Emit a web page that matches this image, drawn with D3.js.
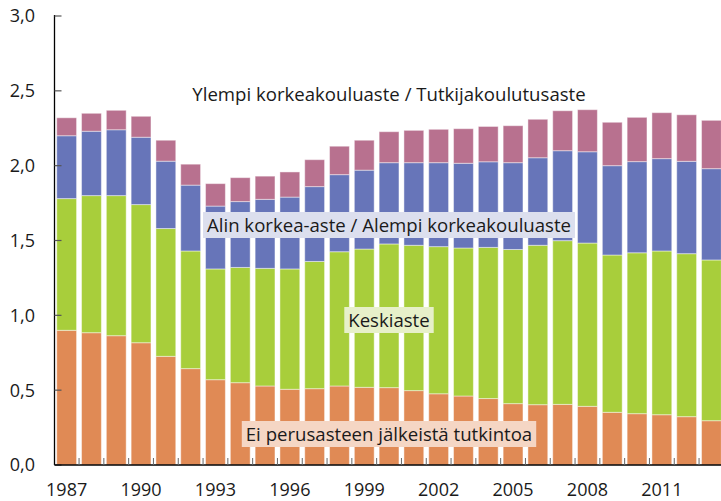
<!DOCTYPE html>
<html>
<head>
<meta charset="utf-8">
<script src="https://cdn.jsdelivr.net/npm/d3@7"></script>
<style>
  body { margin: 0; background: #fff; }
  svg { display: block; }
  text { font-family: "Open Sans", sans-serif; fill: #1a1a1a; }
</style>
</head>
<body>
<div class="chart"></div>
<script>
var years = [1987, 1988, 1989, 1990, 1991, 1992, 1993, 1994, 1995, 1996, 1997, 1998, 1999,
             2000, 2001, 2002, 2003, 2004, 2005, 2006, 2007, 2008, 2009, 2010, 2011, 2012, 2013];

// Ei perusasteen jälkeistä tutkintoa
var perus = [0.900, 0.884, 0.864, 0.817, 0.726, 0.644, 0.570, 0.550, 0.528, 0.506, 0.510, 0.528, 0.519,
             0.517, 0.497, 0.476, 0.461, 0.444, 0.410, 0.403, 0.405, 0.392, 0.352, 0.343, 0.336, 0.323, 0.296];
// Keskiaste
var keski = [0.880, 0.916, 0.936, 0.923, 0.854, 0.786, 0.740, 0.770, 0.786, 0.804, 0.850, 0.897, 0.924,
             0.960, 0.971, 0.983, 0.989, 1.010, 1.030, 1.065, 1.094, 1.091, 1.051, 1.075, 1.094, 1.089, 1.074];
// Alin korkea-aste / Alempi korkeakouluaste
var alin = [0.420, 0.430, 0.440, 0.450, 0.450, 0.440, 0.420, 0.440, 0.461, 0.480, 0.500, 0.515, 0.527,
            0.543, 0.552, 0.561, 0.566, 0.572, 0.580, 0.585, 0.601, 0.610, 0.597, 0.609, 0.617, 0.617, 0.610];
// Ylempi korkeakouluaste / Tutkijakoulutusaste
var ylempi = [0.120, 0.120, 0.130, 0.140, 0.140, 0.140, 0.150, 0.160, 0.155, 0.168, 0.180, 0.190, 0.200,
              0.207, 0.216, 0.223, 0.231, 0.236, 0.247, 0.257, 0.267, 0.281, 0.290, 0.296, 0.307, 0.311, 0.323];

var seriesNames = ["perus", "keski", "alin", "ylempi"];
var seriesLabels = ["Ei perusasteen jälkeistä tutkintoa", "Keskiaste",
                    "Alin korkea-aste / Alempi korkeakouluaste", "Ylempi korkeakouluaste / Tutkijakoulutusaste"];
var yTicks = [0, 0.5, 1.0, 1.5, 2.0, 2.5, 3.0];
var xLabelYears = [1987, 1990, 1993, 1996, 1999, 2002, 2005, 2008, 2011];

var colors = {perus: "#e08a55", keski: "#a8ce3b", alin: "#6775b9", ylempi: "#b8718f"};
var boxColors = {perus: "#f5d6c4", keski: "#e7f0c9", alin: "#dcdfee", ylempi: "none"};

var svg_width = 721, svg_height = 501;
var svg = d3.select(".chart").append("svg").attr("width", svg_width).attr("height", svg_height);

var axisX = 54.5, y0 = 465, y3 = 16;

var table = years.map(function(yr, i) {
  return {year: yr, perus: perus[i], keski: keski[i], alin: alin[i], ylempi: ylempi[i]};
});

var stack = d3.stack().keys(seriesNames);
var layers = stack(table);

var y = d3.scaleLinear().domain([0, 3]).range([y0, y3]);

var pIn = 0.2, pOut = 0.09;
var step = 24.8;
var x = d3.scaleBand()
  .domain(years)
  .range([axisX, axisX + step * (years.length - pIn + 2 * pOut)])
  .paddingInner(pIn)
  .paddingOuter(pOut);

// bars
var layer = svg.selectAll(".layer")
  .data(layers)
  .enter().append("g")
    .attr("class", "layer")
    .attr("fill", function(d) { return colors[d.key]; });

layer.selectAll("rect")
  .data(function(d) { return d; })
  .enter().append("rect")
    .attr("x", function(d) { return x(d.data.year); })
    .attr("y", function(d) { return y(d[1]); })
    .attr("width", x.bandwidth())
    .attr("height", function(d) { return y(d[0]) - y(d[1]); })
    .style("stroke", "rgba(255,255,255,0.45)")
    .style("stroke-width", 1);

// y axis
svg.append("line")
  .attr("x1", axisX).attr("x2", axisX)
  .attr("y1", y3 - 1).attr("y2", y0)
  .style("stroke", "#000").style("stroke-width", 1.3);

svg.selectAll(".ytick")
  .data(yTicks)
  .enter().append("line")
    .attr("class", "ytick")
    .attr("x1", axisX).attr("x2", axisX + 7)
    .attr("y1", function(d) { return y(d); })
    .attr("y2", function(d) { return y(d); })
    .style("stroke", "#555").style("stroke-width", 1.2);

svg.selectAll(".ylabel")
  .data(yTicks)
  .enter().append("text")
    .attr("class", "ylabel")
    .attr("x", 35)
    .attr("y", function(d) { return y(d); })
    .attr("dy", "0.36em")
    .attr("text-anchor", "end")
    .style("font-size", "18px")
    .text(function(d) { return d3.format(".1f")(d).replace(".", ","); });

// x axis
svg.append("line")
  .attr("x1", axisX).attr("x2", svg_width)
  .attr("y1", y0).attr("y2", y0)
  .style("stroke", "#000").style("stroke-width", 1.3);

svg.selectAll(".xtick")
  .data(years.slice(1))
  .enter().append("line")
    .attr("class", "xtick")
    .attr("x1", function(d) { return x(d) - step * pIn / 2; })
    .attr("x2", function(d) { return x(d) - step * pIn / 2; })
    .attr("y1", y0 - 7).attr("y2", y0)
    .style("stroke", "#666").style("stroke-width", 1);

svg.selectAll(".xlabel")
  .data(xLabelYears)
  .enter().append("text")
    .attr("class", "xlabel")
    .attr("x", function(d) { return x(d) + x.bandwidth() / 2; })
    .attr("y", 496)
    .attr("text-anchor", "middle")
    .style("font-size", "18px")
    .text(function(d) { return d; });

// series labels
var labelPos = [
  {key: "perus", cx: 389, cy: 434},
  {key: "keski", cx: 389, cy: 320},
  {key: "alin", cx: 389, cy: 225},
  {key: "ylempi", cx: 389, cy: 94}
];

labelPos.forEach(function(p) {
  var g = svg.append("g");
  var rect = g.append("rect").attr("fill", boxColors[p.key]);
  var t = g.append("text")
    .attr("x", p.cx)
    .attr("y", p.cy)
    .attr("dy", "0.36em")
    .attr("text-anchor", "middle")
    .style("font-size", "18.6px")
    .text(seriesLabels[seriesNames.indexOf(p.key)]);
  var bb = t.node().getBBox();
  rect.attr("x", bb.x - 4).attr("y", p.cy - 13)
    .attr("width", bb.width + 8).attr("height", 26);
});
</script>
</body>
</html>
